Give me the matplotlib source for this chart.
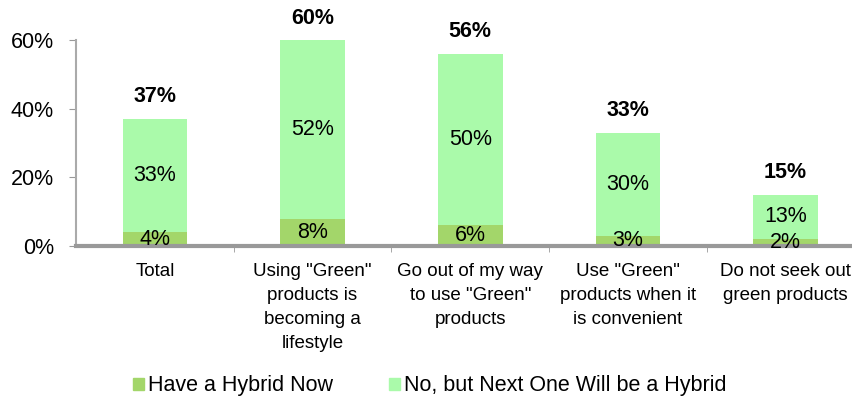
import matplotlib
matplotlib.use("Agg")
import matplotlib.pyplot as plt
from matplotlib.patches import Patch
from matplotlib.ticker import FixedLocator

plt.rcParams['font.family'] = ['Liberation Sans', 'DejaVu Sans']

categories = [
    "Total",
    "Using \"Green\"\nproducts is\nbecoming a\nlifestyle",
    "Go out of my way\nto use \"Green\"\nproducts",
    "Use \"Green\"\nproducts when it\nis convenient",
    "Do not seek out\ngreen products",
]
have_now = [4, 8, 6, 3, 2]
next_one = [33, 52, 50, 30, 13]
totals = [37, 60, 56, 33, 15]
series_names = ["Have a Hybrid Now", "No, but Next One Will be a Hybrid"]

dark_green = "#A3D66A"
light_green = "#AAFAAA"

fig = plt.figure(figsize=(8.53, 4.04), dpi=100)
ax = fig.add_axes([76 / 853, (404 - 246) / 404, (853 - 76) / 853, (246 - 40) / 404])

x = range(len(categories))
width = 0.41
ax.bar(x, have_now, width, color=dark_green, zorder=2)
ax.bar(x, next_one, width, bottom=have_now, color=light_green, zorder=2)

for i in x:
    ax.text(i, have_now[i] / 2, f"{have_now[i]}%", ha="center", va="center", fontsize=15.5)
    ax.text(i, have_now[i] + next_one[i] / 2, f"{next_one[i]}%", ha="center", va="center", fontsize=15.5)
    ax.annotate(f"{totals[i]}%", (i, totals[i]), xytext=(0, 22), textcoords="offset pixels",
                ha="center", va="center", fontsize=15.5, fontweight="bold", annotation_clip=False)

ax.set_ylim(0, 60)
ax.set_xlim(-0.5, 4.5 - (864.5 - 853) / 157.7)
ax.set_yticks([0, 20, 40, 60])
ax.set_yticklabels([f"{v}%" for v in [0, 20, 40, 60]], fontsize=15.5)
ax.tick_params(axis="y", length=5, color="#999999", pad=11)

ax.set_xticks(list(x))
ax.set_xticklabels(categories, fontsize=13.5, linespacing=1.55, va="top")
ax.tick_params(axis="x", length=0, pad=12)
ax.xaxis.set_minor_locator(FixedLocator([i + 0.5 for i in range(len(categories))]))
ax.tick_params(axis="x", which="minor", length=4, color="#999999")

for s in ["top", "right"]:
    ax.spines[s].set_visible(False)
ax.spines["left"].set_color("#AAAAAA")
ax.spines["left"].set_linewidth(1.5)
ax.spines["bottom"].set_color("#999999")
ax.spines["bottom"].set_linewidth(3)

handles = [Patch(color=dark_green), Patch(color=light_green)]
fig.legend(handles, series_names, loc="center", bbox_to_anchor=(430 / 853, (404 - 386) / 404),
           ncol=2, frameon=False, fontsize=15.5, handlelength=0.5, handleheight=0.5,
           handletextpad=0.2, columnspacing=2.6, borderpad=0.2)

fig.savefig("out.png", dpi=100)
